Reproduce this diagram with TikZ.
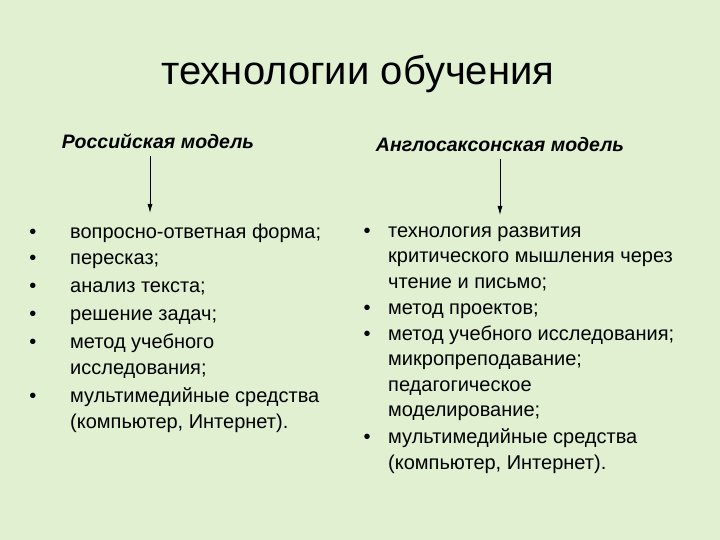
\documentclass[tikz,border=0pt]{standalone}
\usepackage{fontspec}
\setmainfont{Liberation Sans}
\usetikzlibrary{arrows.meta}
\begin{document}
\begin{tikzpicture}[x=1pt,y=-1pt,
  txt/.style={anchor=base west,inner sep=0pt,font=\fontsize{20}{24}\selectfont},
  bul/.style={anchor=base,inner sep=0pt,font=\fontsize{20}{24}\selectfont},
  hd/.style={anchor=base,inner sep=0pt,font=\fontsize{19.5}{23}\selectfont\bfseries\itshape},
  arr/.style={-{Latex[length=9pt,width=5pt]},line width=0.8pt}]
\fill[fill={rgb,255:red,224;green,240;blue,208}] (0,0) rectangle (720,540);
\node[anchor=base,inner sep=0pt,font=\fontsize{40}{46}\selectfont] (title) at (358,85) {технологии обучения};
\node[hd] (ru) at (158,149) {Российская модель};
\node[hd] (en) at (500,152) {Англосаксонская модель};
\coordinate (ra) at (150,213);
\coordinate (ea) at (500,215);
\draw[arr] (150,156) -- (ra);
\draw[arr] (500,159) -- (ea);
% left
\foreach \y/\t [count=\i] in {238/{вопросно-ответная форма;},264/{пересказ;},292/{анализ текста;},320/{решение задач;},348/{метод учебного}}{
  \node[bul] (lb\i) at (33,\y) {•};
  \node[txt] (lt\i) at (70,\y) {\t};}
\node[txt] (lt6) at (70,374) {исследования;};
\node[bul] (lb7) at (33,402) {•};
\node[txt] (lt7) at (70,402) {мультимедийные средства};
\node[txt] (lt8) at (70,428) {(компьютер, Интернет).};
% right
\node[bul] (rb1) at (367,237) {•};
\node[txt] (rt1) at (388,237) {технология развития};
\node[txt] (rt2) at (388,262) {критического мышления через};
\node[txt] (rt3) at (388,288) {чтение и письмо;};
\node[bul] (rb4) at (367,314) {•};
\node[txt] (rt4) at (388,314) {метод проектов;};
\node[bul] (rb5) at (367,340) {•};
\node[txt] (rt5) at (388,340) {метод учебного исследования;};
\node[txt] (rt6) at (388,365) {микропреподавание;};
\node[txt] (rt7) at (388,391) {педагогическое};
\node[txt] (rt8) at (388,416) {моделирование;};
\node[bul] (rb9) at (367,443) {•};
\node[txt] (rt9) at (388,443) {мультимедийные средства};
\node[txt] (rt10) at (388,469) {(компьютер, Интернет).};
\end{tikzpicture}
\end{document}
